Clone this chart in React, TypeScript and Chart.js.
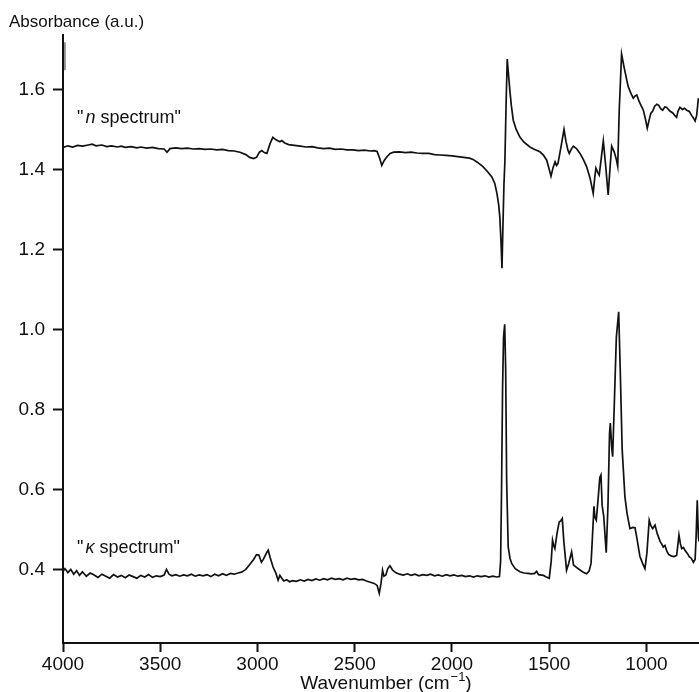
import React, { useEffect, useRef } from "react";
import { Chart, registerables } from "chart.js";

Chart.register(...registerables);

const xTickValues = [4000, 3500, 3000, 2500, 2000, 1500, 1000];
const yTickValues = [0.4, 0.6, 0.8, 1.0, 1.2, 1.4, 1.6];

const nWave = [
  4000, 3975, 3950, 3925, 3900, 3870, 3850, 3830, 3800, 3775, 3750, 3720, 3700, 3680, 3650, 3620, 3600, 3570, 3540, 3510,
  3480, 3465, 3450, 3420, 3390, 3360, 3330, 3300, 3270, 3240, 3210, 3180, 3150, 3120, 3090, 3060, 3040, 3020, 3005, 2990,
  2978, 2965, 2952, 2935, 2921, 2905, 2885, 2875, 2860, 2840, 2810, 2780, 2750, 2720, 2690, 2660, 2630, 2600, 2570, 2540,
  2510, 2480, 2450, 2420, 2400, 2385, 2372, 2361, 2353, 2346, 2332, 2318, 2300, 2270, 2240, 2210, 2180, 2150, 2120, 2090,
  2062, 2030, 2000, 1970, 1940, 1910, 1892, 1870, 1841, 1820, 1795, 1780, 1769, 1760, 1754, 1748, 1743, 1738, 1733, 1728,
  1722, 1716, 1710, 1702, 1695, 1685, 1670, 1651, 1630, 1599, 1575, 1548, 1530, 1513, 1500, 1491, 1480, 1470, 1462, 1455,
  1440, 1424, 1414, 1404, 1397, 1385, 1376, 1360, 1342, 1325, 1308, 1290, 1274, 1266, 1260, 1250, 1243, 1232, 1222, 1210,
  1197, 1188, 1179, 1166, 1155, 1148, 1140, 1128, 1115, 1100, 1094, 1080, 1068, 1058, 1050, 1038, 1025, 1016, 1005, 996,
  988, 978, 968, 958, 947, 937, 927, 917, 906, 896, 880, 865, 855, 845, 838, 828, 815, 805, 793, 780,
  768, 758, 750, 742, 733,
];
const nAbs = [
  1.455, 1.459, 1.456, 1.46, 1.458, 1.461, 1.463, 1.459, 1.461, 1.457, 1.459, 1.456, 1.458, 1.455, 1.457, 1.454, 1.456, 1.453, 1.455, 1.452,
  1.451, 1.443, 1.452, 1.454, 1.452, 1.453, 1.451, 1.452, 1.45, 1.451, 1.449, 1.45, 1.447, 1.446, 1.443, 1.437, 1.43, 1.427, 1.43, 1.443,
  1.447, 1.442, 1.44, 1.465, 1.48, 1.474, 1.469, 1.472, 1.466, 1.462, 1.46, 1.458, 1.456, 1.457, 1.454, 1.452, 1.453, 1.45, 1.451, 1.449,
  1.449, 1.447, 1.448, 1.446, 1.447, 1.445, 1.428, 1.41, 1.418, 1.424, 1.433, 1.44, 1.443, 1.444, 1.442, 1.443, 1.441, 1.44, 1.44, 1.437,
  1.436, 1.435, 1.434, 1.432, 1.43, 1.428, 1.425, 1.418, 1.407, 1.396, 1.381, 1.365, 1.34, 1.312, 1.28, 1.22, 1.153, 1.26, 1.36, 1.42,
  1.56, 1.676, 1.64, 1.595, 1.56, 1.523, 1.5, 1.481, 1.468, 1.456, 1.45, 1.444, 1.436, 1.423, 1.4, 1.383, 1.405, 1.419, 1.41, 1.415,
  1.455, 1.5, 1.47, 1.448, 1.44, 1.452, 1.458, 1.452, 1.44, 1.425, 1.407, 1.378, 1.34, 1.38, 1.403, 1.392, 1.386, 1.43, 1.471, 1.41,
  1.336, 1.4, 1.458, 1.444, 1.425, 1.408, 1.55, 1.688, 1.655, 1.62, 1.607, 1.59, 1.578, 1.584, 1.586, 1.57, 1.557, 1.548, 1.525, 1.503,
  1.52, 1.54, 1.546, 1.558, 1.563, 1.56, 1.552, 1.548, 1.556, 1.555, 1.546, 1.541, 1.535, 1.53, 1.545, 1.555, 1.55, 1.553, 1.548, 1.545,
  1.535, 1.528, 1.521, 1.535, 1.578,
];

const kWave = [
  4000, 3990, 3975, 3960, 3945, 3930, 3915, 3900, 3880, 3860, 3840, 3820, 3800, 3780, 3760, 3740, 3720, 3700, 3680, 3660,
  3640, 3620, 3600, 3580, 3560, 3540, 3520, 3500, 3480, 3468, 3455, 3440, 3420, 3400, 3380, 3360, 3340, 3320, 3300, 3280,
  3260, 3240, 3220, 3200, 3180, 3160, 3140, 3120, 3100, 3082, 3060, 3040, 3020, 3005, 2993, 2980, 2970, 2955, 2945, 2935,
  2920, 2905, 2894, 2885, 2875, 2865, 2850, 2835, 2820, 2800, 2780, 2760, 2740, 2720, 2700, 2680, 2660, 2640, 2620, 2600,
  2580, 2560, 2540, 2520, 2500, 2480, 2460, 2440, 2420, 2400, 2385, 2374, 2365, 2357, 2350, 2340, 2330, 2319, 2305, 2290,
  2270, 2250, 2230, 2210, 2190, 2170, 2150, 2130, 2110, 2090, 2070, 2050, 2030, 2010, 1990, 1970, 1950, 1930, 1910, 1890,
  1870, 1850, 1830, 1810, 1790, 1770, 1756, 1750, 1745, 1740, 1735, 1729, 1724, 1719, 1711, 1702, 1693, 1675, 1651, 1630,
  1610, 1590, 1575, 1565, 1555, 1530, 1515, 1500, 1490, 1483, 1477, 1471, 1460, 1449, 1440, 1433, 1425, 1411, 1400, 1385,
  1375, 1360, 1340, 1325, 1308, 1295, 1285, 1278, 1270, 1265, 1258, 1248, 1240, 1234, 1228, 1220, 1207, 1198, 1190, 1186,
  1178, 1174, 1165, 1155, 1143, 1135, 1125, 1111, 1100, 1085, 1070, 1059, 1050, 1034, 1020, 1008, 998, 986, 978, 968,
  956, 945, 930, 920, 914, 905, 895, 885, 870, 858, 845, 839, 833, 826, 819, 810, 802, 790, 780, 770,
  759, 750, 745, 739, 733, 730,
];
const kAbs = [
  0.395, 0.402, 0.392, 0.4, 0.388, 0.397, 0.385, 0.394, 0.383, 0.391, 0.386, 0.38, 0.388, 0.383, 0.378, 0.387, 0.381, 0.385, 0.379, 0.386,
  0.382, 0.378, 0.385, 0.381, 0.387, 0.38, 0.384, 0.382, 0.386, 0.4, 0.388, 0.384, 0.387, 0.383, 0.386, 0.384, 0.388, 0.383, 0.386, 0.384,
  0.387, 0.382, 0.388, 0.384, 0.389, 0.385, 0.39, 0.388, 0.391, 0.393, 0.4, 0.412, 0.425, 0.437, 0.436, 0.418, 0.425, 0.44, 0.448, 0.43,
  0.406, 0.39, 0.373, 0.385, 0.378, 0.371, 0.374, 0.369, 0.372, 0.37, 0.374, 0.371, 0.375, 0.372, 0.376, 0.373, 0.377, 0.374, 0.378, 0.375,
  0.377, 0.374, 0.378, 0.375, 0.377, 0.374, 0.375, 0.371, 0.368, 0.365, 0.36, 0.34, 0.365, 0.398, 0.383, 0.386, 0.402, 0.409, 0.398, 0.392,
  0.388, 0.386, 0.389, 0.385, 0.388, 0.384, 0.387, 0.385, 0.388, 0.384, 0.386, 0.383, 0.387, 0.384, 0.386, 0.383, 0.385, 0.382, 0.384, 0.381,
  0.384, 0.382, 0.384, 0.381, 0.383, 0.381, 0.382, 0.42, 0.606, 0.85, 0.98, 1.013, 0.9, 0.623, 0.456, 0.428, 0.415, 0.402, 0.394, 0.391,
  0.39, 0.389, 0.39, 0.395, 0.387, 0.385, 0.381, 0.378, 0.42, 0.473, 0.46, 0.452, 0.49, 0.518, 0.522, 0.527, 0.47, 0.398, 0.415, 0.444,
  0.411, 0.405, 0.398, 0.393, 0.389, 0.396, 0.415, 0.48, 0.558, 0.53, 0.523, 0.58, 0.63, 0.636, 0.56, 0.533, 0.442, 0.56, 0.74, 0.766,
  0.7, 0.682, 0.82, 0.98, 1.044, 0.9, 0.7, 0.582, 0.54, 0.502, 0.505, 0.504, 0.48, 0.433, 0.415, 0.402, 0.44, 0.523, 0.51, 0.502,
  0.511, 0.49, 0.47, 0.462, 0.456, 0.46, 0.445, 0.437, 0.433, 0.432, 0.435, 0.46, 0.486, 0.465, 0.452, 0.455, 0.448, 0.44, 0.432, 0.428,
  0.418, 0.425, 0.48, 0.573, 0.482, 0.47,
];

// small scan artifact at the top of the y axis
const artifactWave = [3990, 3990];
const artifactAbs = [1.718, 1.648];

const FONT = '"Liberation Sans", Arial, Helvetica, sans-serif';

const textPlugin = {
  id: "textPlugin",
  afterDraw(chart: any) {
    const ctx = chart.ctx as CanvasRenderingContext2D;
    ctx.save();
    ctx.fillStyle = "#111";
    ctx.textBaseline = "alphabetic";
    ctx.textAlign = "left";
    // y axis title
    ctx.font = `17px ${FONT}`;
    ctx.fillText("Absorbance (a.u.)", 9, 27);

    const drawLabel = (sym: string, x: number, y: number) => {
      ctx.font = `18px ${FONT}`;
      ctx.fillText('"', x, y);
      let cx = x + ctx.measureText('"').width + 2;
      ctx.font = `italic 18px ${FONT}`;
      ctx.fillText(sym, cx, y);
      cx += ctx.measureText(sym).width;
      ctx.font = `18px ${FONT}`;
      ctx.fillText(' spectrum"', cx, y);
    };
    drawLabel("n", 77, 123);
    drawLabel("\u03ba", 77, 553);

    // x axis title with superscript
    const main1 = "Wavenumber (cm";
    const sup = "\u22121";
    const main2 = ")";
    ctx.font = `19px ${FONT}`;
    const w1 = ctx.measureText(main1).width;
    const w3 = ctx.measureText(main2).width;
    ctx.font = `13px ${FONT}`;
    const w2 = ctx.measureText(sup).width;
    const total = w1 + w2 + w3 + 1;
    const cxMid = (chart.chartArea.left + chart.chartArea.right) / 2 + 5;
    let sx = cxMid - total / 2;
    const by = 689;
    ctx.font = `19px ${FONT}`;
    ctx.fillText(main1, sx, by);
    sx += w1 + 1;
    ctx.font = `13px ${FONT}`;
    ctx.fillText(sup, sx, by - 8);
    sx += w2;
    ctx.font = `19px ${FONT}`;
    ctx.fillText(main2, sx, by);
    ctx.restore();
  },
};

export default function App() {
  const canvasRef = useRef<HTMLCanvasElement | null>(null);

  useEffect(() => {
    const canvas = canvasRef.current;
    if (!canvas) return;
    const nData = nWave.map((w, i) => ({ x: w, y: nAbs[i] }));
    const kData = kWave.map((w, i) => ({ x: w, y: kAbs[i] }));
    const aData = artifactWave.map((w, i) => ({ x: w, y: artifactAbs[i] }));

    const chart = new Chart(canvas, {
      type: "line",
      data: {
        datasets: [
          { label: "n spectrum", data: nData, borderColor: "#111", borderWidth: 1.7, pointRadius: 0, tension: 0, fill: false },
          { label: "kappa spectrum", data: kData, borderColor: "#111", borderWidth: 1.7, pointRadius: 0, tension: 0, fill: false },
          { label: "artifact", data: aData, borderColor: "#777", borderWidth: 1.5, pointRadius: 0, tension: 0, fill: false },
        ],
      },
      plugins: [textPlugin],
      options: {
        responsive: false,
        animation: false,
        devicePixelRatio: 1,
        layout: { padding: { top: 35, right: 0, left: 0, bottom: 0 } },
        plugins: { legend: { display: false }, tooltip: { enabled: false }, title: { display: false } },
        scales: {
          x: {
            type: "linear",
            reverse: true,
            min: 730,
            max: 4000,
            afterBuildTicks: (s: any) => {
              s.ticks = xTickValues.map((v) => ({ value: v }));
            },
            afterFit: (s: any) => {
              s.height = 49;
            },
            grid: { display: true, drawOnChartArea: false, drawTicks: true, tickLength: 9, tickWidth: 2, tickColor: "#111" },
            border: { display: true, color: "#111", width: 2 },
            ticks: {
              color: "#111",
              font: { family: FONT, size: 19 },
              padding: 1,
              maxRotation: 0,
              autoSkip: false,
              callback: (v: any) => String(v),
            },
          },
          y: {
            type: "linear",
            min: 0.216,
            max: 1.736,
            afterBuildTicks: (s: any) => {
              s.ticks = yTickValues.map((v) => ({ value: v }));
            },
            afterFit: (s: any) => {
              s.width = 63;
            },
            grid: { display: true, drawOnChartArea: false, drawTicks: true, tickLength: 10, tickWidth: 2, tickColor: "#111" },
            border: { display: true, color: "#111", width: 2 },
            ticks: {
              color: "#111",
              font: { family: FONT, size: 19 },
              padding: 8,
              autoSkip: false,
              callback: (v: any) => Number(v).toFixed(1),
            },
          },
        },
      },
    });
    return () => chart.destroy();
  }, []);

  return (
    <div style={{ position: "fixed", left: 0, top: 0, width: 699, height: 692, background: "#fff" }}>
      <canvas ref={canvasRef} width={699} height={692} style={{ width: 699, height: 692, display: "block" }} />
    </div>
  );
}
